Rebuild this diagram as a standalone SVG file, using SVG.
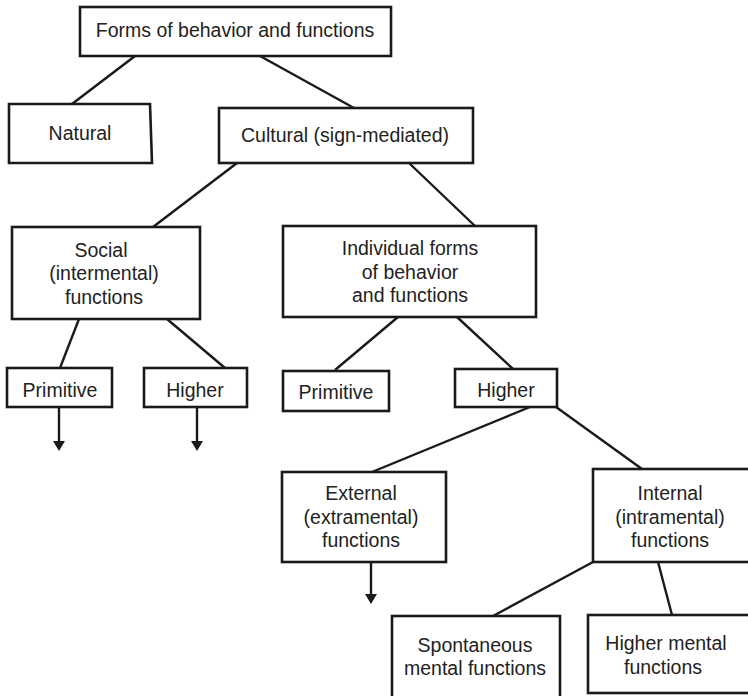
<svg xmlns="http://www.w3.org/2000/svg" width="748" height="696" viewBox="0 0 748 696">
  <style>
    .box { fill: #fff; stroke: #1a1a1a; stroke-width: 2.6; }
    .lbl { font-family: "Liberation Sans", Arial, sans-serif; font-size: 19.5px; fill: #222; text-anchor: middle; }
    .edge { stroke: #1a1a1a; stroke-width: 2.4; fill: none; }
  </style>
  <defs>
    <!-- solid triangular head; tip sits 8px past the line end -->
    <marker id="arrow" viewBox="0 0 10 12" refX="2" refY="6" markerWidth="10" markerHeight="12" markerUnits="userSpaceOnUse" orient="auto">
      <path d="M0,0 L10,6 L0,12 Z" fill="#1a1a1a"/>
    </marker>
  </defs>
  <rect width="748" height="696" fill="#fff"/>

  <g id="connectors">
    <line class="edge" x1="135" y1="56" x2="72" y2="104"/>
    <line class="edge" x1="260" y1="56" x2="354" y2="108"/>
    <line class="edge" x1="237" y1="163" x2="153" y2="227"/>
    <line class="edge" x1="409" y1="163" x2="475" y2="226"/>
    <line class="edge" x1="79" y1="319" x2="60" y2="368"/>
    <line class="edge" x1="167" y1="319" x2="225" y2="368"/>
    <line class="edge" x1="398" y1="317" x2="335" y2="370"/>
    <line class="edge" x1="457" y1="317" x2="513" y2="369"/>
    <line class="edge" x1="530" y1="407" x2="372" y2="472"/>
    <line class="edge" x1="556" y1="407" x2="642" y2="469"/>
    <line class="edge" x1="593" y1="562" x2="493" y2="616"/>
    <line class="edge" x1="658" y1="562" x2="672" y2="615"/>
    <line class="edge" x1="59" y1="407" x2="59" y2="443" marker-end="url(#arrow)"/>
    <line class="edge" x1="197" y1="407" x2="197" y2="443" marker-end="url(#arrow)"/>
    <line class="edge" x1="371" y1="562" x2="371" y2="596" marker-end="url(#arrow)"/>
  </g>

  <g id="forms">
    <rect class="box" x="80" y="7" width="311" height="49"/>
    <text class="lbl" x="235" y="37">Forms of behavior and functions</text>
  </g>
  <g id="natural">
    <path class="box" d="M9,104 L150,104 L152,163 L9,163 Z"/>
    <text class="lbl" x="80" y="140">Natural</text>
  </g>
  <g id="cultural">
    <rect class="box" x="219" y="108" width="254" height="55"/>
    <text class="lbl" x="345" y="142">Cultural (sign-mediated)</text>
  </g>
  <g id="social">
    <rect class="box" x="12" y="227" width="188" height="92"/>
    <text class="lbl"><tspan x="101" y="257">Social</tspan><tspan x="104" y="280">(intermental)</tspan><tspan x="104" y="304">functions</tspan></text>
  </g>
  <g id="individual">
    <rect class="box" x="283" y="226" width="253" height="91"/>
    <text class="lbl"><tspan x="410" y="255">Individual forms</tspan><tspan x="410" y="279">of behavior</tspan><tspan x="410" y="302">and functions</tspan></text>
  </g>
  <g id="social-primitive">
    <rect class="box" x="7" y="368" width="105" height="39"/>
    <text class="lbl" x="60" y="397">Primitive</text>
  </g>
  <g id="social-higher">
    <rect class="box" x="144" y="368" width="103" height="39"/>
    <text class="lbl" x="195" y="397">Higher</text>
  </g>
  <g id="individual-primitive">
    <rect class="box" x="283" y="371" width="106" height="40"/>
    <text class="lbl" x="336" y="399">Primitive</text>
  </g>
  <g id="individual-higher">
    <rect class="box" x="455" y="369" width="102" height="38"/>
    <text class="lbl" x="506" y="397">Higher</text>
  </g>
  <g id="external">
    <rect class="box" x="282" y="472" width="164" height="90"/>
    <text class="lbl"><tspan x="361" y="500">External</tspan><tspan x="361" y="524">(extramental)</tspan><tspan x="361" y="547">functions</tspan></text>
  </g>
  <g id="internal">
    <rect class="box" x="593" y="469" width="160" height="93"/>
    <text class="lbl"><tspan x="670" y="500">Internal</tspan><tspan x="670" y="524">(intramental)</tspan><tspan x="670" y="547">functions</tspan></text>
  </g>
  <g id="spontaneous">
    <rect class="box" x="392" y="616" width="168" height="84"/>
    <text class="lbl"><tspan x="475" y="652">Spontaneous</tspan><tspan x="475" y="675">mental functions</tspan></text>
  </g>
  <g id="higher-mental">
    <rect class="box" x="588" y="615" width="165" height="78"/>
    <text class="lbl"><tspan x="666" y="650">Higher mental</tspan><tspan x="663" y="674">functions</tspan></text>
  </g>
</svg>
